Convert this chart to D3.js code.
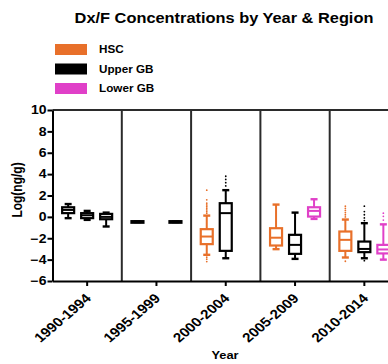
<!DOCTYPE html>
<html>
<head>
<meta charset="utf-8">
<script src="https://cdn.jsdelivr.net/npm/d3@7"></script>
<style>
  html, body { margin: 0; padding: 0; background: #fff; }
  svg { display: block; }
  text { font-family: "Liberation Sans", Arial, sans-serif; font-weight: bold; fill: #000; }
</style>
</head>
<body>
<svg id="chart" width="388" height="364"></svg>
<script>
// Sampling periods and regions
const periods = ["1990-1994", "1995-1999", "2000-2004", "2005-2009", "2010-2014"];
const regions = ["HSC", "Upper GB", "Lower GB"];
const regionColors = ["#e8702a", "#000000", "#e040c8"];
// Early periods were reported in black ink for every region
const monoPeriods = ["1990-1994", "1995-1999"];

// Box statistics per period: [min, q1, median, q3, max] in Log(ng/g)
const hscStats = [
  [-0.12, 0.35, 0.65, 0.9, 1.2],
  [-0.47, -0.55, -0.47, -0.4, -0.47],
  [-3.55, -2.55, -1.84, -1.15, 0.12],
  [-3.02, -2.68, -1.95, -1.06, 1.15],
  [-3.8, -3.18, -2.15, -1.37, -0.25]
];
const upperStats = [
  [-0.28, -0.12, 0.15, 0.35, 0.56],
  null,
  [-3.87, -3.18, 0.35, 1.28, 2.5],
  [-3.93, -3.46, -2.62, -1.68, 0.4],
  [-3.87, -3.3, -3.0, -2.31, -0.59]
];
const lowerStats = [
  [-0.9, -0.22, 0.0, 0.28, 0.4],
  [-0.47, -0.55, -0.47, -0.4, -0.47],
  null,
  [-0.19, 0.03, 0.56, 0.9, 1.65],
  [-4.0, -3.42, -3.05, -2.62, -0.7]
];

// Outlying samples per period
const hscOutliers = [
  [], [],
  [2.5, 1.6, 1.28, 1.12, 0.97, 0.81, 0.65, 0.5, 0.35, -3.77, -3.96, -4.18],
  [],
  [1.0, 0.8, 0.6, 0.4, 0.2, 0.0, -4.15]
];
const upperOutliers = [
  [], [],
  [3.8, 3.5, 3.2, 2.9],
  [],
  [1.0, 0.5, 0.2, -0.1, -0.35, -4.1]
];
const lowerOutliers = [
  [], [], [], [],
  [0.35, 0.05, -0.3]
];

const yTicks = [10, 8, 6, 4, 2, 0, -2, -4, -6];

const statsByRegion = [hscStats, upperStats, lowerStats];
const outliersByRegion = [hscOutliers, upperOutliers, lowerOutliers];

// Glyphs are drawn slightly wide
const SX = 1.17;

const svg = d3.select("#chart");
const plotTop = 110, plotBottom = 281, plotLeft = 52.5, panelW = 69.3;

const x = d3.scaleBand().domain(periods).range([plotLeft, plotLeft + panelW * periods.length]).padding(0);
const dx = d3.scalePoint().domain(regions).range([-19, 19]);
const y = d3.scaleLinear().domain([-6, 10]).range([plotBottom, plotTop]);

// Title
svg.append("text")
  .attr("transform", `translate(224,23) scale(${SX},1)`)
  .attr("text-anchor", "middle")
  .style("font-size", "14px")
  .text("Dx/F Concentrations by Year & Region");

// Legend
const legend = svg.append("g");
regions.forEach((r, i) => {
  const ly = 44 + i * 19.5;
  legend.append("rect").attr("x", 55).attr("y", ly).attr("width", 32).attr("height", 11)
    .attr("fill", regionColors[i]);
  legend.append("text")
    .attr("transform", `translate(99,${ly + 9}) scale(${SX},1)`)
    .style("font-size", "10px")
    .text(r);
});

// Panel dividers and frame
const frame = svg.append("g");
periods.forEach((p, i) => {
  if (i === 0) return;
  frame.append("line")
    .attr("x1", x(p)).attr("x2", x(p))
    .attr("y1", plotTop).attr("y2", plotBottom)
    .attr("stroke", "#2b2b2b").attr("stroke-width", 2);
});
frame.append("line")
  .attr("x1", plotLeft).attr("x2", 388).attr("y1", plotTop).attr("y2", plotTop)
  .attr("stroke", "#2b2b2b").attr("stroke-width", 2);

// Y axis
const yAxis = svg.append("g")
  .attr("transform", `translate(${plotLeft},0)`)
  .call(d3.axisLeft(y).tickValues(yTicks).tickSize(5).tickSizeOuter(0));
yAxis.select(".domain").attr("stroke", "#000").attr("stroke-width", 2);
yAxis.selectAll(".tick line").attr("stroke", "#000").attr("stroke-width", 2);
yAxis.selectAll(".tick text")
  .attr("x", 0)
  .attr("transform", `translate(-6,0) scale(${SX},1)`)
  .style("font-size", "12px")
  .style("font-family", "'Liberation Sans', Arial, sans-serif")
  .style("font-weight", "bold");

// X axis
const xAxis = svg.append("g")
  .attr("transform", `translate(0,${plotBottom})`)
  .call(d3.axisBottom(x).tickSize(5).tickSizeOuter(0));
xAxis.select(".domain").attr("stroke", "#000").attr("stroke-width", 2);
xAxis.selectAll(".tick line").attr("stroke", "#000").attr("stroke-width", 2);
xAxis.selectAll(".tick text")
  .attr("x", 0).attr("y", 0).attr("dy", "0.35em")
  .attr("transform", `translate(1,15) scale(${SX},1) rotate(-45)`)
  .style("text-anchor", "end")
  .style("font-size", "13px")
  .style("font-family", "'Liberation Sans', Arial, sans-serif")
  .style("font-weight", "bold");

// Axis titles
svg.append("text")
  .attr("transform", `translate(22,190) scale(${SX},1) rotate(-90)`)
  .attr("text-anchor", "middle")
  .style("font-size", "12px")
  .text("Log(ng/g)");
svg.append("text")
  .attr("transform", `translate(225,359) scale(${SX},1)`)
  .attr("text-anchor", "middle")
  .style("font-size", "11px")
  .text("Year");

// Box plots
const boxW = 12, capW = 7;
const marks = svg.append("g");
periods.forEach((p, pi) => {
  regions.forEach((r, ri) => {
    const s = statsByRegion[ri][pi];
    if (!s) return;
    const [mn, q1, med, q3, mx] = s;
    const color = monoPeriods.includes(p) ? "#000" : regionColors[ri];
    const cx = x(p) + x.bandwidth() / 2 + dx(r);
    const g = marks.append("g");
    // whiskers
    g.append("line").attr("x1", cx).attr("x2", cx).attr("y1", y(q3)).attr("y2", y(mx))
      .attr("stroke", color).attr("stroke-width", 2);
    g.append("line").attr("x1", cx).attr("x2", cx).attr("y1", y(q1)).attr("y2", y(mn))
      .attr("stroke", color).attr("stroke-width", 2);
    [mn, mx].forEach(v => {
      g.append("line").attr("x1", cx - capW / 2).attr("x2", cx + capW / 2)
        .attr("y1", y(v)).attr("y2", y(v))
        .attr("stroke", color).attr("stroke-width", 2.4);
    });
    // box
    g.append("rect")
      .attr("x", cx - boxW / 2).attr("width", boxW)
      .attr("y", y(q3)).attr("height", Math.max(0, y(q1) - y(q3)))
      .attr("fill", "#fff").attr("stroke", color).attr("stroke-width", 2.2);
    g.append("line").attr("x1", cx - boxW / 2).attr("x2", cx + boxW / 2)
      .attr("y1", y(med)).attr("y2", y(med))
      .attr("stroke", color).attr("stroke-width", 2);
    // outliers
    outliersByRegion[ri][pi].forEach(v => {
      g.append("circle").attr("cx", cx).attr("cy", y(v)).attr("r", 0.9).attr("fill", color);
    });
  });
});
</script>
</body>
</html>
